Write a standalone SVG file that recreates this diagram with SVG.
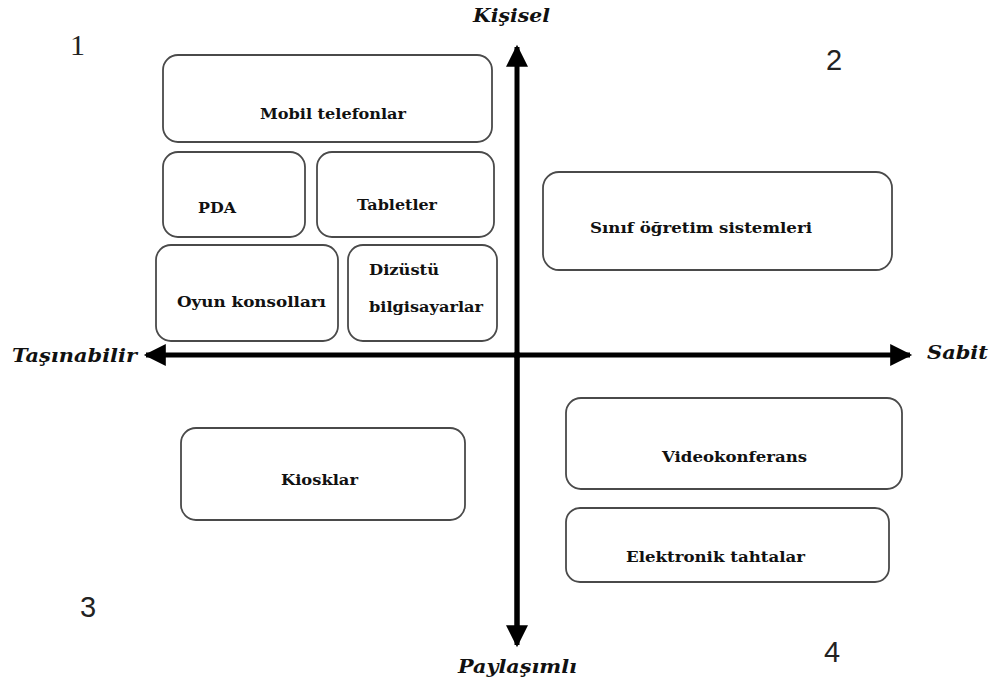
<svg xmlns="http://www.w3.org/2000/svg" width="998" height="682" viewBox="0 0 998 682">
<style>
.box{fill:#fff;stroke:#4a4a4a;stroke-width:1.8}
.t{font-family:"DejaVu Serif","Liberation Serif",serif;font-weight:bold;font-size:15.5px;fill:#111}
.ax{font-family:"DejaVu Serif","Liberation Serif",serif;font-weight:bold;font-style:italic;font-size:19px;fill:#111}
.n1{font-family:"Liberation Serif",serif;font-size:30px;fill:#222}
.n{font-family:"Liberation Sans","Noto Sans",sans-serif;font-size:29px;fill:#222}
.axis{stroke:#000;stroke-width:5;fill:none}
</style>
<defs>
<marker id="ah" viewBox="0 0 10 10" refX="9" refY="5" markerWidth="4.6" markerHeight="4.4" orient="auto" markerUnits="strokeWidth">
<path d="M0,0 L10,5 L0,10 z" fill="#000"/>
</marker>
</defs>
<rect width="998" height="682" fill="#fff"/>
<g id="connectors">
<line class="axis" x1="517" y1="640" x2="517" y2="47" marker-end="url(#ah)"/>
<line class="axis" x1="517" y1="355" x2="517" y2="645" marker-end="url(#ah)"/>
<line class="axis" x1="520" y1="355" x2="146" y2="355" marker-end="url(#ah)"/>
<line class="axis" x1="514" y1="355" x2="910" y2="355" marker-end="url(#ah)"/>
</g>
<g id="axis-labels">
<text class="ax" x="473" y="22" textLength="77" lengthAdjust="spacingAndGlyphs">Kişisel</text>
<text class="ax" x="12" y="362" textLength="125" lengthAdjust="spacingAndGlyphs">Taşınabilir</text>
<text class="ax" x="927" y="359" textLength="61" lengthAdjust="spacingAndGlyphs">Sabit</text>
<text class="ax" x="458" y="673" textLength="119" lengthAdjust="spacingAndGlyphs">Paylaşımlı</text>
</g>
<g id="quadrant-numbers">
<text class="n1" x="70" y="55">1</text>
<text class="n" x="826" y="70">2</text>
<text class="n" x="80" y="617">3</text>
<text class="n" x="824" y="662">4</text>
</g>
<g id="mobil"><rect class="box" x="163" y="55" width="329" height="87" rx="15"/><text class="t" x="260" y="119" textLength="146" lengthAdjust="spacingAndGlyphs">Mobil telefonlar</text></g>
<g id="pda"><rect class="box" x="163" y="152" width="142" height="85" rx="15"/><text class="t" x="198" y="213" textLength="38" lengthAdjust="spacingAndGlyphs">PDA</text></g>
<g id="tabletler"><rect class="box" x="317" y="152" width="177" height="85" rx="15"/><text class="t" x="357" y="210" textLength="80" lengthAdjust="spacingAndGlyphs">Tabletler</text></g>
<g id="oyun"><rect class="box" x="156" y="245" width="182" height="96" rx="15"/><text class="t" x="177" y="307" textLength="149" lengthAdjust="spacingAndGlyphs">Oyun konsolları</text></g>
<g id="dizustu"><rect class="box" x="348" y="245" width="149" height="96" rx="15"/><text class="t" x="369" y="275" textLength="70" lengthAdjust="spacingAndGlyphs">Dizüstü</text><text class="t" x="369" y="312" textLength="114" lengthAdjust="spacingAndGlyphs">bilgisayarlar</text></g>
<g id="sinif"><rect class="box" x="543" y="172" width="349" height="98" rx="16"/><text class="t" x="590" y="233" textLength="222" lengthAdjust="spacingAndGlyphs">Sınıf öğretim sistemleri</text></g>
<g id="kiosklar"><rect class="box" x="181" y="428" width="284" height="92" rx="15"/><text class="t" x="281" y="485" textLength="77" lengthAdjust="spacingAndGlyphs">Kiosklar</text></g>
<g id="video"><rect class="box" x="566" y="398" width="336" height="91" rx="15"/><text class="t" x="662" y="462" textLength="145" lengthAdjust="spacingAndGlyphs">Videokonferans</text></g>
<g id="elektronik"><rect class="box" x="566" y="508" width="323" height="74" rx="14"/><text class="t" x="626" y="562" textLength="179" lengthAdjust="spacingAndGlyphs">Elektronik tahtalar</text></g>
</svg>
